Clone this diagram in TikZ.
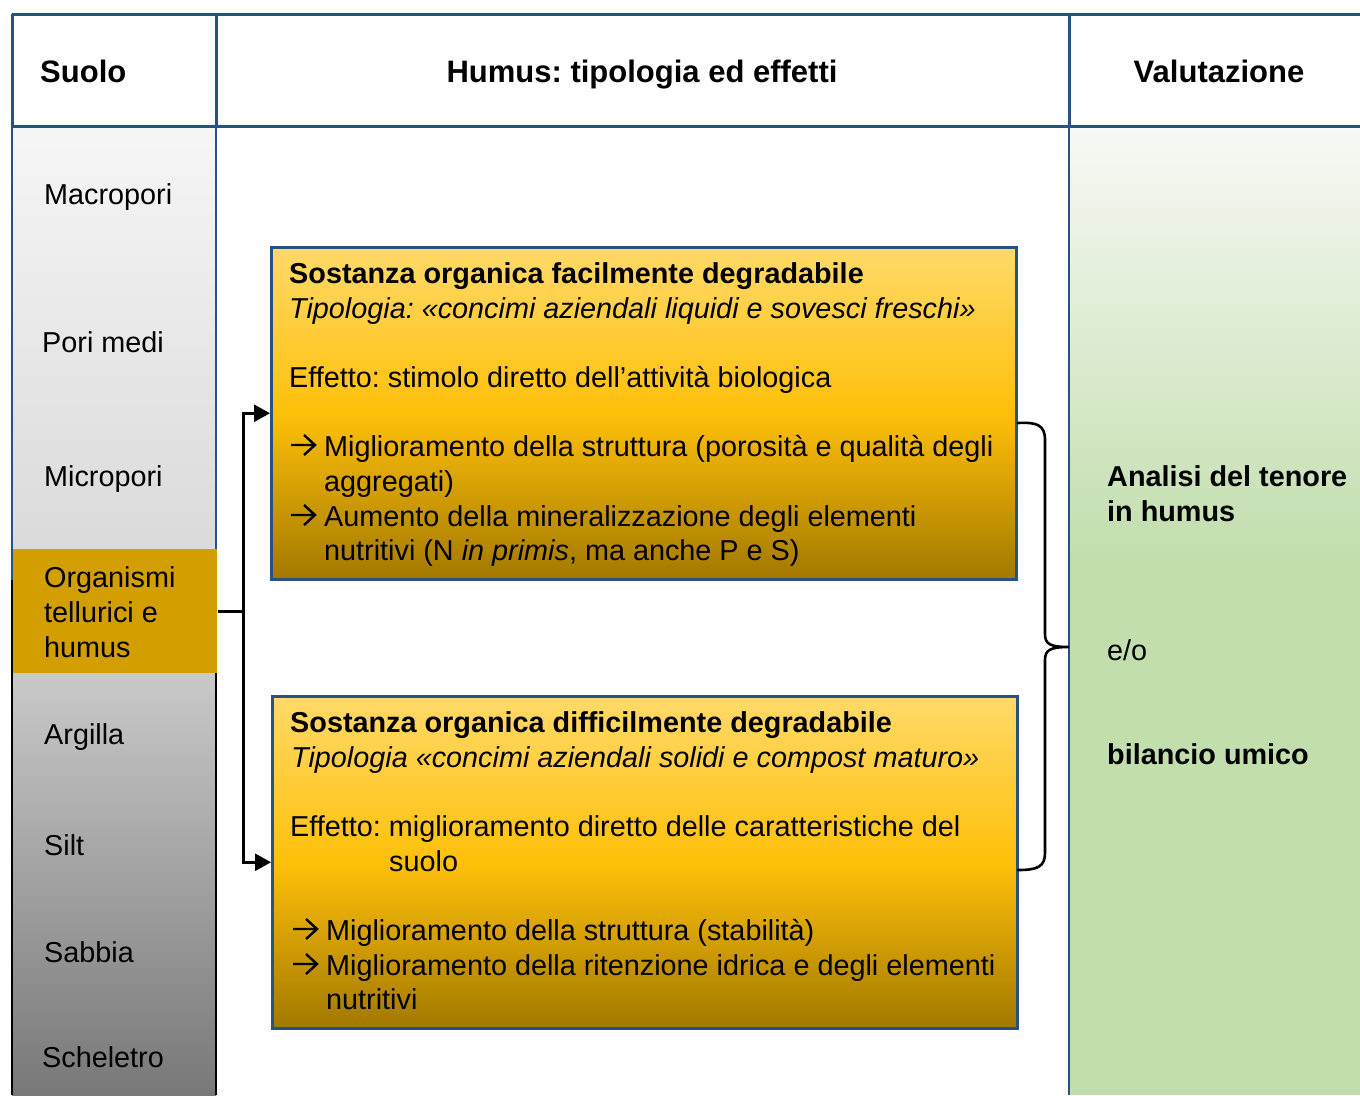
\documentclass[tikz,border=0pt]{standalone}
\usepackage{fontspec}
\setmainfont{Liberation Sans}
\usetikzlibrary{arrows.meta}
\definecolor{tblue}{RGB}{40,82,130}
\definecolor{greyTop}{RGB}{246,246,246}
\definecolor{greyMid}{RGB}{216,216,216}
\definecolor{greyLow}{RGB}{201,201,201}
\definecolor{greyBot}{RGB}{120,120,120}
\definecolor{goldband}{RGB}{211,159,0}
\definecolor{boxTop}{RGB}{255,218,105}
\definecolor{boxMid}{RGB}{255,192,10}
\definecolor{boxBot}{RGB}{162,121,0}
\definecolor{greenTop}{RGB}{247,249,245}
\definecolor{greenMain}{RGB}{194,222,173}
\frenchspacing
\newcommand{\bodyfont}{\fontsize{28.8}{35}\selectfont}
\tikzset{
  hdr/.style={font=\fontsize{31}{37}\selectfont\bfseries, inner sep=0, anchor=base},
  ln/.style={inner sep=0, anchor=base west},
  bld/.style={ln, font=\bodyfont\bfseries},
  itl/.style={ln, font=\bodyfont\itshape},
  hbox/.style={draw=tblue, line width=2.5pt, top color=boxTop, bottom color=boxBot, middle color=boxMid, minimum width=745pt, minimum height=332pt, anchor=north west, inner sep=0},
  conn/.style={black, line width=2.6pt},
  arrc/.style={conn, -{Triangle[length=16pt,width=17pt]}, shorten >=0pt},
  bracestyle/.style={black, line width=2.6pt, line cap=round},
  glyph/.style={black, line width=2.4pt, line join=miter},
}
\begin{document}
\begin{tikzpicture}[x=1pt,y=-1pt,font=\bodyfont\frenchspacing]
\useasboundingbox (0,0) rectangle (1360,1095);
\fill[white] (0,0) rectangle (1360,1095);
% left column fills
\shade[top color=greyTop, bottom color=greyMid] (12,126) rectangle (216,580);
\shade[top color=greyLow, bottom color=greyBot] (12,673) rectangle (216,1095);
\fill[greyLow] (12,580) rectangle (216,673);
% right column fills
\shade[top color=greenTop, bottom color=greenMain] (1069,126) rectangle (1360,560);
\fill[greenMain] (1069,560) rectangle (1360,1095);
% left column borders
\draw[tblue, line width=1.6pt] (12,126) -- (12,580) (216,126) -- (216,580);
\draw[black, line width=2.2pt] (12,580) -- (12,1095) (216,580) -- (216,1095);
% gold band
\node[fill=goldband, minimum width=204pt, minimum height=124pt, inner sep=0, anchor=north west] (band) at (13.2,549) {};
% header grid
\draw[tblue, line width=3pt] (12,14) -- (1360,14);
\draw[tblue, line width=3pt] (12,126) -- (1360,126);
\draw[tblue, line width=3pt] (12,14) -- (12,126) (216,14) -- (216,126) (1069,14) -- (1069,126);
\draw[tblue, line width=2.2pt] (1069,126) -- (1069,1095);
% headers
\node[hdr, anchor=base west] (hsuolo) at (40,82) {Suolo};
\node[hdr] (hhumus) at (642,82) {Humus: tipologia ed effetti};
\node[hdr] (hval) at (1219,82) {Valutazione};
% left labels
\node[ln] (macro) at (44,204) {Macropori};
\node[ln] (pori) at (42,352) {Pori medi};
\node[ln] (micro) at (44,486) {Micropori};
\node[ln] (org1) at (44,587) {Organismi};
\node[ln] (org2) at (44,622) {tellurici e};
\node[ln] (org3) at (44,657) {humus};
\node[ln] (argilla) at (44,744) {Argilla};
\node[ln] (silt) at (44,855) {Silt};
\node[ln] (sabbia) at (44,962) {Sabbia};
\node[ln] (schel) at (42,1067) {Scheletro};
% boxes
\node[hbox] (box1) at (270,246) {};
\node[hbox] (box2) at (271,695) {};
% box 1 text
\node[bld] (b1a) at (289,283) {Sostanza organica facilmente degradabile};
\node[itl] (b1b) at (289,318) {Tipologia: «concimi aziendali liquidi e sovesci freschi»};
\node[ln] (b1c) at (289,387) {Effetto: stimolo diretto dell’attività biologica};
\node[ln] (b1d) at (324,456) {Miglioramento della struttura (porosità e qualità degli};
\node[ln] (b1e) at (324,491) {aggregati)};
\node[ln] (b1f) at (324,526) {Aumento della mineralizzazione degli elementi};
\node[ln] (b1g) at (324,560) {nutritivi (N \textit{in primis}, ma anche P e S)};
% box 2 text
\node[bld] (b2a) at (290,732) {Sostanza organica difficilmente degradabile};
\node[itl] (b2b) at (291,767) {Tipologia «concimi aziendali solidi e compost maturo»};
\node[ln] (b2c) at (290,836) {Effetto: miglioramento diretto delle caratteristiche del};
\node[ln] (b2d) at (389,871) {suolo};
\node[ln] (b2e) at (326,940) {Miglioramento della struttura (stabilità)};
\node[ln] (b2f) at (326,975) {Miglioramento della ritenzione idrica e degli elementi};
\node[ln] (b2g) at (326,1009) {nutritivi};
% bullet arrows
\foreach \n in {b1d,b1f,b2e,b2f}{
  \draw[glyph] (\n.base west) ++(-33,-11) -- ++(24,0) ++(-11,-10) -- ++(11,10) -- ++(-11,10);
}
% right column text
\node[bld] (r1) at (1107,486) {Analisi del tenore};
\node[bld] (r2) at (1107,521) {in humus};
\node[ln] (r3) at (1107,660) {e/o};
\node[bld] (r4) at (1107,764) {bilancio umico};
% connectors
\path (band.east) ++(26,0) coordinate (jn);
\draw[conn] (band.east) -- (jn);
\draw[arrc] (jn) |- (box1.west);
\draw[arrc] (jn) |- (box2.west);
% brace
\coordinate (btop) at (1018,423);
\coordinate (bbot) at (1018,870);
\coordinate (btip) at (1069,647);
\draw[bracestyle] (btop) .. controls (1037,422) and (1045,425) .. (1045,440) -- (1045,634)
  .. controls (1045,644) and (1050,647) .. (btip)
  .. controls (1050,647) and (1045,650) .. (1045,660) -- (1045,853)
  .. controls (1045,867) and (1037,870) .. (bbot);
\end{tikzpicture}
\end{document}
